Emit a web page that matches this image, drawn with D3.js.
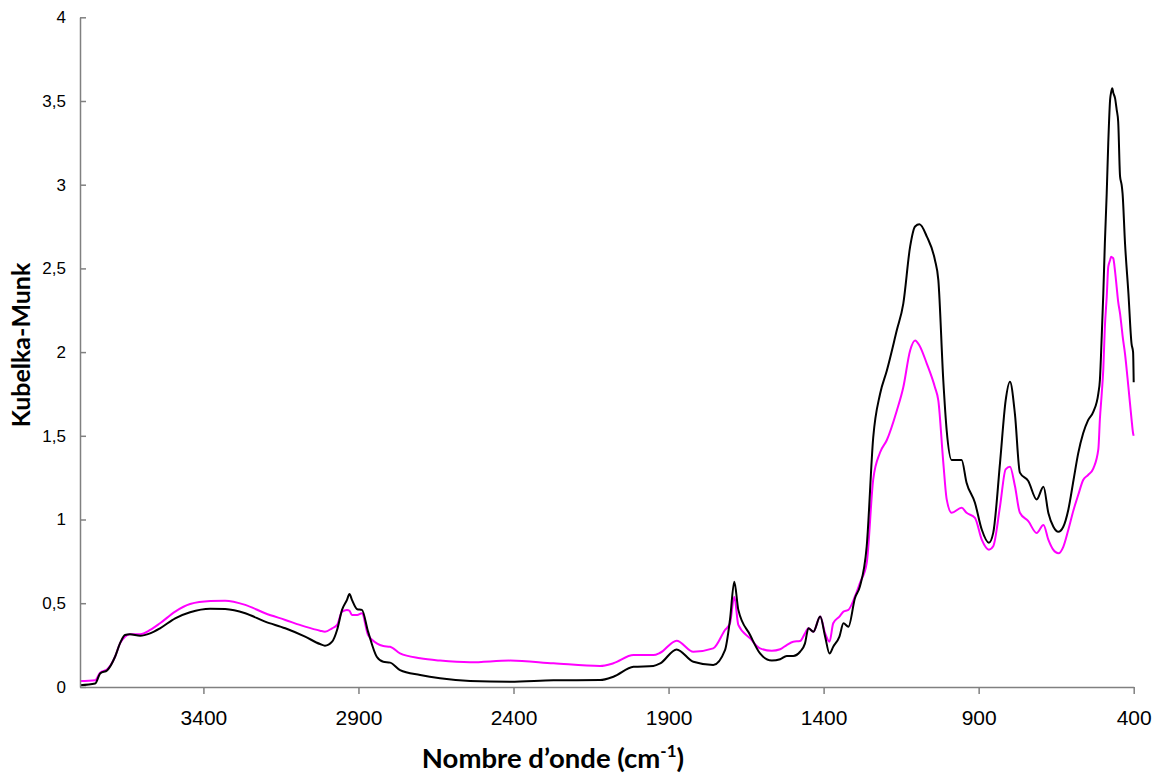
<!DOCTYPE html>
<html>
<head>
<meta charset="utf-8">
<script src="https://cdn.jsdelivr.net/npm/d3@7"></script>
<style>
  body { margin: 0; background: #fff; }
  svg { display: block; }
</style>
</head>
<body>
<div class="graphContainer"></div>
<script>
// wavenumber grid (cm-1)
var wavenumbers = [3798, 3749, 3733, 3710, 3685, 3669, 3653, 3637, 3604, 3572, 3540, 3491, 3443, 3378, 3330, 3265, 3201, 3136, 3072, 3024,
    3008, 2985, 2969, 2953, 2937, 2929, 2921, 2904, 2889, 2869, 2841, 2820, 2798, 2766, 2701, 2637, 2540, 2411, 2271, 2121,
    2078, 2013, 1949, 1927, 1874, 1820, 1756, 1718, 1702, 1688, 1675, 1637, 1605, 1567, 1540, 1519, 1498, 1476, 1460, 1449,
    1433, 1411, 1395, 1381, 1369, 1349, 1336, 1320, 1299, 1283, 1261, 1240, 1218, 1196, 1164, 1143, 1121, 1105, 1091, 1067,
    1041, 1030, 1014, 1003, 987, 955, 939, 912, 890, 867, 853, 831, 813, 799, 783, 767, 740, 713, 691, 675,
    659, 643, 627, 611, 594, 579, 563, 547, 530, 514, 509, 503, 498, 493, 487, 482, 476, 473, 469, 466,
    460, 455, 450, 444, 439, 436, 428, 417, 407, 402, 400];

// black curve
var kmBlack = [0.01, 0.02, 0.08, 0.10, 0.18, 0.26, 0.31, 0.315, 0.306, 0.32, 0.35, 0.41, 0.446, 0.467, 0.465, 0.44, 0.39, 0.35, 0.30, 0.256,
    0.246, 0.27, 0.34, 0.46, 0.52, 0.555, 0.52, 0.464, 0.46, 0.33, 0.18, 0.15, 0.145, 0.10, 0.071, 0.051, 0.035, 0.031, 0.039, 0.041,
    0.061, 0.12, 0.125, 0.14, 0.224, 0.15, 0.131, 0.22, 0.40, 0.628, 0.46, 0.31, 0.20, 0.157, 0.165, 0.185, 0.185, 0.21, 0.26, 0.35,
    0.33, 0.42, 0.30, 0.20, 0.24, 0.30, 0.38, 0.36, 0.53, 0.60, 0.84, 1.49, 1.75, 1.89, 2.13, 2.29, 2.63, 2.75, 2.763, 2.69,
    2.55, 2.43, 1.83, 1.53, 1.355, 1.355, 1.22, 1.10, 0.94, 0.861, 0.92, 1.34, 1.71, 1.823, 1.63, 1.28, 1.23, 1.12, 1.196, 1.037,
    0.957, 0.927, 0.957, 1.057, 1.236, 1.395, 1.515, 1.594, 1.644, 1.754, 1.833, 2.1, 2.35, 2.65, 2.95, 3.25, 3.51, 3.55, 3.576, 3.55,
    3.516, 3.45, 3.376, 3.05, 3.0, 2.95, 2.65, 2.35, 2.05, 2.0, 1.82];

// magenta curve
var kmMagenta = [0.035, 0.04, 0.085, 0.105, 0.18, 0.26, 0.30, 0.315, 0.315, 0.34, 0.38, 0.45, 0.495, 0.513, 0.515, 0.49, 0.44, 0.40, 0.36, 0.336,
    0.33, 0.35, 0.37, 0.45, 0.46, 0.455, 0.43, 0.43, 0.44, 0.31, 0.26, 0.244, 0.24, 0.20, 0.171, 0.157, 0.147, 0.157, 0.141, 0.125,
    0.141, 0.19, 0.19, 0.204, 0.276, 0.21, 0.23, 0.34, 0.38, 0.539, 0.37, 0.29, 0.23, 0.216, 0.225, 0.25, 0.27, 0.274, 0.32, 0.35,
    0.33, 0.42, 0.32, 0.27, 0.38, 0.42, 0.45, 0.46, 0.54, 0.62, 0.74, 1.24, 1.40, 1.475, 1.65, 1.79, 2.01, 2.07, 2.04, 1.93,
    1.79, 1.71, 1.34, 1.12, 1.04, 1.07, 1.04, 1.01, 0.88, 0.82, 0.84, 1.08, 1.30, 1.315, 1.20, 1.04, 0.99, 0.92, 0.967, 0.878,
    0.818, 0.798, 0.837, 0.937, 1.057, 1.146, 1.236, 1.266, 1.306, 1.42, 1.6, 1.754, 1.9, 2.15, 2.33, 2.51, 2.55, 2.57, 2.565, 2.56,
    2.48, 2.39, 2.30, 2.23, 2.15, 2.10, 1.99, 1.79, 1.6, 1.515, 1.50];

var xTicks = [3400, 2900, 2400, 1900, 1400, 900, 400];
var yTicks = [0, 0.5, 1, 1.5, 2, 2.5, 3, 3.5, 4];

var w = 1156,
    h = 776;

var xScale = d3.scaleLinear()
    .domain([3798, 400])
    .range([80, 1133.7]);

var yScale = d3.scaleLinear()
    .domain([0, 4])
    .range([686.9, 17.3]);

var svg = d3.select(".graphContainer")
    .append("svg")
    .attr("width", w)
    .attr("height", h);

var line = d3.line()
    .curve(d3.curveMonotoneX)
    .x(function (d) { return xScale(d[0]); })
    .y(function (d) { return yScale(d[1]); });

var series = [
    { values: kmMagenta, color: "#ff00ff" },
    { values: kmBlack, color: "#000000" }
];

svg.selectAll("path.curve")
    .data(series)
    .enter()
    .append("path")
    .attr("class", "curve")
    .attr("fill", "none")
    .attr("stroke", function (d) { return d.color; })
    .attr("stroke-width", 2)
    .attr("stroke-linejoin", "round")
    .attr("d", function (d) {
        return line(wavenumbers.map(function (wn, i) { return [wn, d.values[i]]; }));
    });

var xAxis = d3.axisBottom(xScale)
    .tickValues(xTicks)
    .tickSizeInner(7)
    .tickSizeOuter(0)
    .tickPadding(16)
    .tickFormat(d3.format("d"));

var yAxis = d3.axisLeft(yScale)
    .tickValues(yTicks)
    .tickSizeInner(-6)
    .tickSizeOuter(0)
    .tickPadding(14)
    .tickFormat(function (d) { return String(d).replace(".", ","); });

var gx = svg.append("g")
    .attr("transform", "translate(0," + yScale(0) + ")")
    .call(xAxis);

var gy = svg.append("g")
    .attr("transform", "translate(" + xScale(3798) + ",0)")
    .call(yAxis);

[gx, gy].forEach(function (g) {
    g.select(".domain").attr("stroke", "#808080").attr("stroke-width", 1.5);
    g.selectAll(".tick line").attr("stroke", "#808080").attr("stroke-width", 1.5);
    g.selectAll("text")
        .attr("fill", "#000")
        .style("font-family", "'Liberation Sans', Arial, sans-serif");
});
gx.selectAll("text").style("font-size", "21px");
gy.selectAll("text").style("font-size", "17px");

var xTitle = svg.append("text")
    .attr("x", 553)
    .attr("y", 768)
    .attr("text-anchor", "middle")
    .style("font-family", "Lato, 'Open Sans', sans-serif")
    .style("font-weight", "bold")
    .style("font-size", "27.5px");
xTitle.append("tspan").text("Nombre d\u2019onde (cm");
xTitle.append("tspan").attr("dy", -11).style("font-size", "17px").text("-1");
xTitle.append("tspan").attr("dy", 11).text(")");

svg.append("text")
    .attr("transform", "translate(30,345) rotate(-90)")
    .attr("text-anchor", "middle")
    .style("font-family", "Lato, 'Open Sans', sans-serif")
    .style("font-weight", "bold")
    .style("font-size", "25px")
    .text("Kubelka-Munk");
</script>
</body>
</html>
